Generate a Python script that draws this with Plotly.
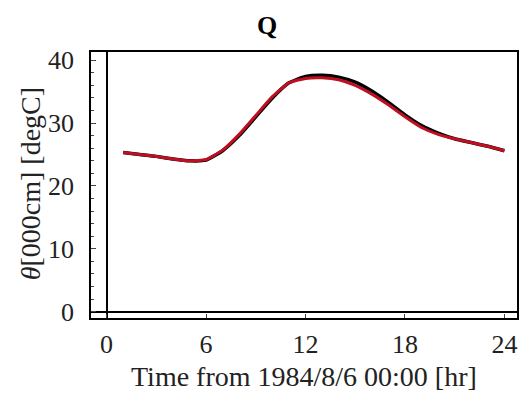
import plotly.graph_objects as go

hours = list(range(1, 25))
observed = [25.3, 25.0, 24.7, 24.3, 24.0, 24.1, 25.6, 28.0, 31.0, 34.0, 36.4, 37.4,
            37.6, 37.3, 36.5, 35.1, 33.3, 31.3, 29.6, 28.4, 27.5, 26.9, 26.3, 25.6]
model = [25.3, 25.0, 24.7, 24.3, 24.0, 24.2, 25.7, 28.2, 31.2, 34.2, 36.4, 37.1,
         37.2, 36.9, 36.0, 34.6, 32.9, 31.0, 29.3, 28.2, 27.5, 26.9, 26.3, 25.6]
x_ticks = [0, 6, 12, 18, 24]
y_ticks = [0, 10, 20, 30, 40]

FONT = "Liberation Serif, Times New Roman, serif"
W, H = 524, 394
ML, MR, MT, MB = 91, 5, 52, 76
PW, PH = W - ML - MR, H - MT - MB


def px(x):
    return (x - ML) / PW


def py(y):
    return (H - MB - y) / PH


fig = go.Figure()
fig.add_trace(go.Scatter(x=hours, y=observed, mode="lines",
                         line=dict(color="black", width=3.5, shape="spline", smoothing=0.5),
                         showlegend=False))
fig.add_trace(go.Scatter(x=hours, y=model, mode="lines",
                         line=dict(color="rgb(190,15,35)", width=3, shape="spline", smoothing=0.5),
                         showlegend=False))

fig.update_layout(
    width=W, height=H,
    margin=dict(l=ML, r=MR, t=MT, b=MB),
    paper_bgcolor="white", plot_bgcolor="white",
    font=dict(family=FONT, size=26, color="#222"),
    xaxis=dict(range=[-0.94, 24.76], tickvals=x_ticks, ticks="inside", ticklen=4,
               tickcolor="#444", showline=True, linecolor="black", linewidth=1.5, mirror=True,
               showgrid=False, zeroline=True, zerolinecolor="black", zerolinewidth=1.5,
               ticklabelstandoff=2, tickfont=dict(family=FONT, size=26, color="#222")),
    yaxis=dict(range=[-1.0, 41.3], tickvals=y_ticks, ticks="inside", ticklen=5,
               tickcolor="#444", showline=True, linecolor="black", linewidth=1.5, mirror=True,
               showgrid=False, zeroline=True, zerolinecolor="black", zerolinewidth=1.5,
               minor=dict(dtick=2, ticks="inside", ticklen=3, tickcolor="#444"),
               ticklabelstandoff=10, tickfont=dict(family=FONT, size=26, color="#222")),
    annotations=[
        dict(text="<b>Q</b>", x=px(268), y=py(25), xref="paper", yref="paper",
             showarrow=False, font=dict(family=FONT, size=26, color="black"),
             xanchor="center", yanchor="middle"),
        dict(text="Time from 1984/8/6 00:00 [hr]", x=px(305), y=py(376),
             xref="paper", yref="paper", showarrow=False,
             font=dict(family=FONT, size=28, color="#222"), xanchor="center", yanchor="middle"),
        dict(text="<i>θ</i>[000cm] [degC]", x=px(30), y=py(184),
             xref="paper", yref="paper", showarrow=False, textangle=-90,
             font=dict(family=FONT, size=28, color="#222"), xanchor="center", yanchor="middle"),
    ],
)
fig.write_html("out.html")
